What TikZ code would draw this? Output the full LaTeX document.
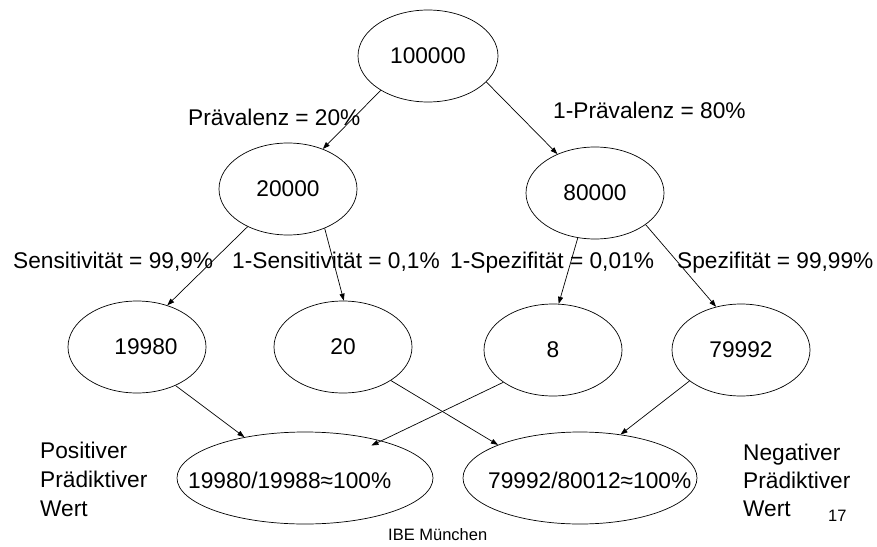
\documentclass[tikz,border=0pt]{standalone}
\usepackage{fontspec}
\setmainfont{Liberation Sans}
\usetikzlibrary{arrows.meta,shapes.geometric}
\begin{document}
\begin{tikzpicture}[x=1pt,y=-1pt,
  ell/.style={draw, ellipse, line width=0.7pt, inner sep=0pt, minimum width=138pt, minimum height=92pt, font=\fontsize{22.7}{27}\selectfont},
  lbl/.style={anchor=base west, inner sep=0pt, font=\fontsize{22.7}{27}\selectfont},
  arr/.style={line width=0.7pt, -{Triangle[length=7pt,width=5pt]}},
  small/.style={anchor=base west, inner sep=0pt, font=\fontsize{16.5}{20}\selectfont}]
\useasboundingbox (0,0) rectangle (877,546);
% nodes
\node[ell, minimum width=140pt] (n1) at (428,56) {100000};
\node[ell] (n2) at (288,189) {20000};
\node[ell] (n3) at (595,193) {80000};
\node[ell] (n4) at (137,347) {\hspace*{18pt}19980};
\node[ell] (n5) at (343,347) {20};
\node[ell] (n6) at (553,350) {8};
\node[ell] (n7) at (741,350) {79992};
\node[ell, minimum width=256pt] (n8) at (305,478) {};
\node[ell, minimum width=234pt] (n9) at (580,478) {};
\node[lbl] (t8) at (188,488) {19980/19988≈100\%};
\node[lbl] (t9) at (488,488) {79992/80012≈100\%};
% labels
\node[lbl] (l1) at (188,125) {Prävalenz = 20\%};
\node[lbl] (l2) at (553,118) {1-Prävalenz = 80\%};
\node[lbl] (l3) at (13,268) {Sensitivität = 99,9\%};
\node[lbl] (l4) at (232,268) {1-Sensitivität = 0,1\%};
\node[lbl] (l5) at (450,268) {1-Spezifität = 0,01\%};
\node[lbl] (l6) at (677,268) {Spezifität = 99,99\%};
\node[lbl] (p1) at (40,458) {Positiver};
\node[lbl] (p2) at (40,487) {Prädiktiver};
\node[lbl] (p3) at (40,516) {Wert};
\node[lbl] (q1) at (743,460) {Negativer};
\node[lbl] (q2) at (743,488) {Prädiktiver};
\node[lbl] (q3) at (743,516) {Wert};
\node[small] (pg) at (828,521) {17};
\node[small] (ft) at (388,540) {IBE München};
% connectors
\draw[arr] (n1.216) -- (n2.49);
\draw[arr] (n1.336) -- (n3.134);
\draw[arr] (n2.223) -- (n4.54);
\draw[arr] (n2.313) -- (n5.89);
\draw[arr] (n3.249) -- (n6.83);
\draw[arr] (n3.328) -- (n7.120);
\draw[arr] (n4.315) -- (n8.146);
\draw[arr] (n5.325) -- (n9.158);
\draw[arr, shorten >=-11pt] (n6.213) -- (n8.26);
\draw[arr] (n7.211) -- (n9.47);
\end{tikzpicture}
\end{document}
